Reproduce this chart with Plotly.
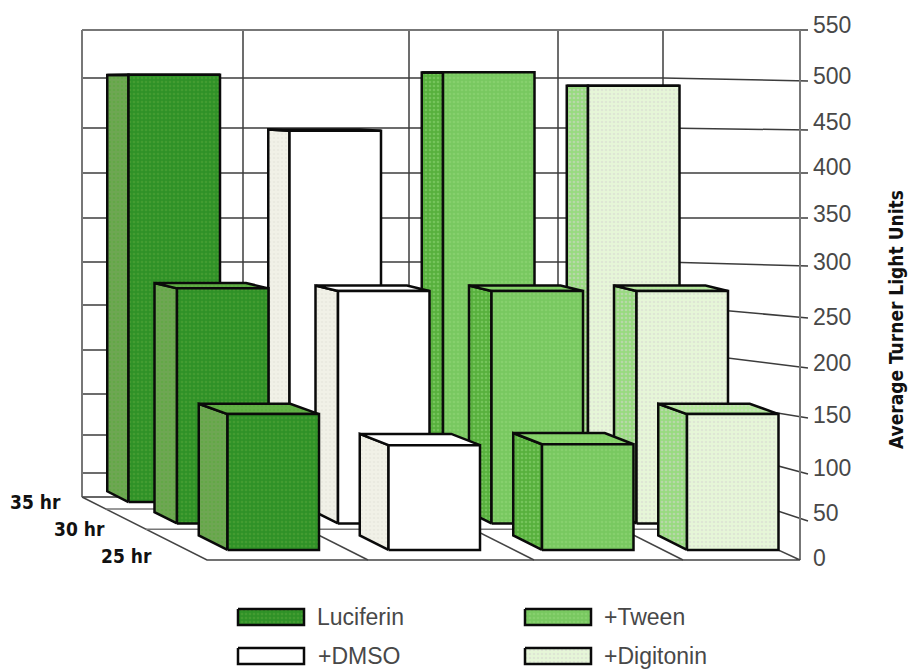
import plotly.graph_objects as go

# Data: light units per treatment, one list per time point
treatments = ["Luciferin", "+DMSO", "+Tween", "+Digitonin"]
hours = ["25 hr", "30 hr", "35 hr"]
values_25hr = [144, 111, 112, 144]
values_30hr = [264, 261, 261, 261]
values_35hr = [504, 438, 507, 491]
tick_values = list(range(0, 551, 50))

# Projection of the pseudo-3D box onto page pixels
FRONT_Y, DEPTH_DY, DEPTH_DX = 560, 63, 125
SCALE_FRONT, SCALE_SLOPE = 0.9636, 0.126


def px(u, d):
    return u - DEPTH_DX * d


def py(v, d):
    return FRONT_Y - DEPTH_DY * d - v * (SCALE_FRONT - SCALE_SLOPE * d)


# Box layout
row_front = [0.16, 0.58, 0.92]
row_back = [0.39, 0.76, 1.09]
row_shift = [0, 2, -4]
bar_left = [247.5, 408.5, 562, 707]
bar_width = 91.5
wall_left_u, wall_right_u = 207, 800
divider_u = [368, 534, 683]
back_grid_y = [473, 435, 394, 350, 305, 262, 218, 173, 128, 78, 30]
front_tick_y = [521, 474, 418, 368, 318, 266, 218, 173, 130, 81, 30]
label_y = [558, 513, 468, 415, 363, 317, 262, 214, 167, 122, 76, 25]
wall_verticals = [82, 243, 409, 558, 663]
floor_rows = [0.49, 0.81]

# Per-treatment fills: front, side, top, dither colours
styles = [
    dict(front="#2f9127", side="#6ea653", top="#62b046", dots="#57a83b", side_dots="#57a83b"),
    dict(front="#ffffff", side="#f1f1e7", top="#ffffff", dots="#ffffff", side_dots="#e4e4da"),
    dict(front="#78c860", side="#57b03d", top="#82d066", dots="#93d87a", side_dots="#93d87a"),
    dict(front="#e6f6d8", side="#98da80", top="#b4e89c", dots="#d6d6d0", side_dots="#d6d6d0"),
]
# Small panel text set in a narrow bold face
NARROW = "DejaVu Sans Condensed"

fig = go.Figure()


def line(xs, ys, color="#3c3c3c", width=1.5):
    fig.add_trace(go.Scatter(x=xs, y=ys, mode="lines", hoverinfo="skip",
                             line=dict(color=color, width=width)))


def face(xs, ys, fill, dots):
    pattern = dict(shape=".", size=4, solidity=0.35, fgcolor=dots, bgcolor=fill)
    fig.add_trace(go.Scatter(x=xs + xs[:1], y=ys + ys[:1], mode="lines",
                             fill="toself", fillcolor=fill, fillpattern=pattern,
                             hoverinfo="skip",
                             line=dict(color="#0a0a0a", width=2.5)))


# Back wall grid and the lines running forward along the right wall
for y_back, y_front in zip(back_grid_y, front_tick_y):
    line([82, 663, 808], [y_back, y_back, y_front])
for x in wall_verticals:
    line([x, x], [30, 497])
line([800, 800], [30, 560], "#777777", 2)
line([82, 800], [30, 30], "#777777", 2)
line([82, 82], [30, 497], "#777777", 2)

# Floor
line([82, 663], [497, 497], "#666666", 2)
line([82, 207, 800, 663], [497, 560, 560, 497], "#444444", 1.5)
for u in divider_u:
    line([px(u, 1), px(u, 0)], [py(0, 1), py(0, 0)], "#444444", 1.5)
for d in floor_rows:
    line([px(wall_left_u, d), 700 + 100 * (1 - d)], [py(0, d), py(0, d)], "#777777", 1.5)

# Bars, painted from the back row forward
rows = [(2, values_35hr), (1, values_30hr), (0, values_25hr)]
for row, values in rows:
    d0, d1, shift = row_front[row], row_back[row], row_shift[row]
    for left, v, st in zip(bar_left, values, styles):
        lx = left + shift
        rx = lx + bar_width
        face([px(lx, d0), px(lx, d1), px(lx, d1), px(lx, d0)],
             [py(0, d0), py(0, d1), py(v, d1), py(v, d0)], st["side"], st["side_dots"])
        face([px(lx, d0), px(lx, d1), px(rx, d1), px(rx, d0)],
             [py(v, d0), py(v, d1), py(v, d1), py(v, d0)], st["top"], st["dots"])
        face([px(lx, d0), px(rx, d0), px(rx, d0), px(lx, d0)],
             [py(0, d0), py(0, d0), py(v, d0), py(v, d0)], st["front"], st["dots"])

# Legend swatches and labels
legend_pos = [(238, 617), (238, 656), (525, 617), (525, 656)]
text_x = [315, 316, 602, 602]
for (x0, yc), tx, name, st in zip(legend_pos, text_x, treatments, styles):
    face([x0, x0 + 66, x0 + 66, x0], [yc - 8, yc - 8, yc + 8, yc + 8], st["front"], st["dots"])
    fig.add_annotation(x=tx, y=yc, text=name, xanchor="left", yanchor="middle", showarrow=False,
                       font=dict(family="Liberation Sans", size=23, color="#484848"))

# Value axis labels
for v, y in zip(tick_values, label_y):
    fig.add_annotation(x=811, y=y, text=str(v), xanchor="left", yanchor="middle", showarrow=False,
                       font=dict(family="Liberation Sans", size=23, color="#484848"))

# Depth axis labels
for label, xr, y in zip(hours, [154, 107, 63], [556, 529, 502]):
    fig.add_annotation(x=xr, y=y, text=f"<b>{label}</b>", xanchor="right", yanchor="middle",
                       showarrow=False,
                       font=dict(family=NARROW, size=19, color="#111111"))

fig.add_annotation(x=896, y=320, text="<b>Average Turner Light Units</b>", textangle=-90,
                   xanchor="center", yanchor="middle", showarrow=False,
                   font=dict(family=NARROW, size=19, color="#111111"))

fig.update_layout(
    width=912, height=669, margin=dict(l=0, r=0, t=0, b=0),
    plot_bgcolor="white", paper_bgcolor="white", showlegend=False,
    xaxis=dict(range=[0, 912], visible=False, fixedrange=True),
    yaxis=dict(range=[669, 0], visible=False, fixedrange=True),
)
fig.write_html("out.html", config=dict(displayModeBar=False))
